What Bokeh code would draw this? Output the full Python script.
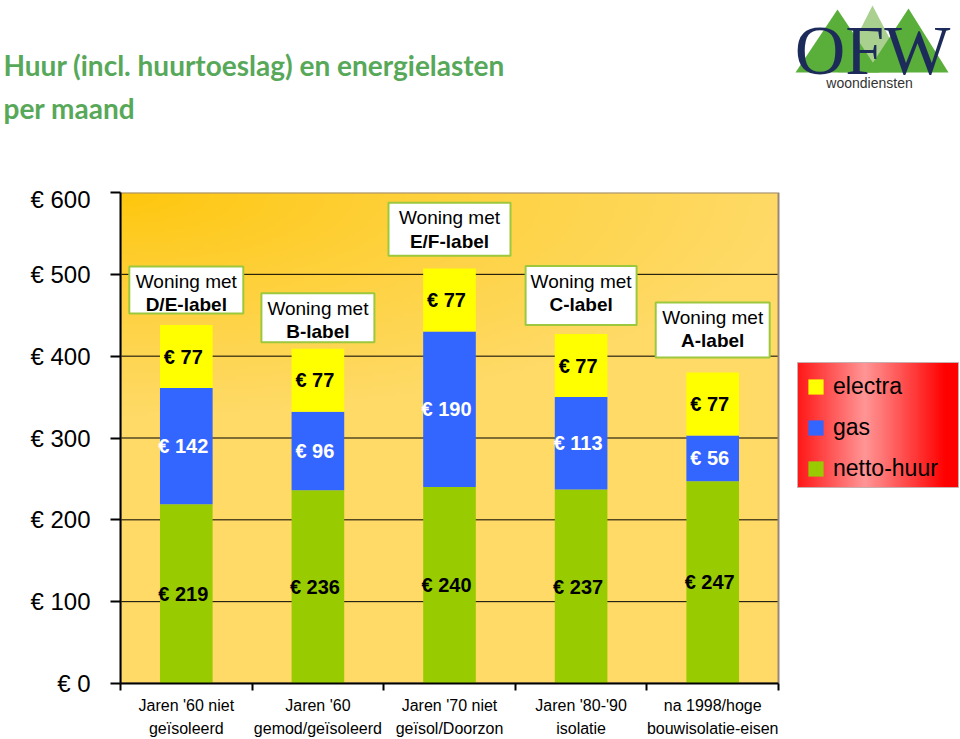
import numpy as np
from bokeh.plotting import figure
from bokeh.models import Range1d, FixedTicker, Legend, LegendItem, ColumnDataSource
from bokeh.layouts import column
from bokeh.core.properties import value
from bokeh.embed import file_html
from bokeh.resources import INLINE

# ---------------- data ----------------
categories = ["Jaren '60 niet\ngeïsoleerd", "Jaren '60\ngemod/geïsoleerd",
              "Jaren '70 niet\ngeïsol/Doorzon", "Jaren '80-'90\nisolatie",
              "na 1998/hoge\nbouwisolatie-eisen"]
energy_labels = ["D/E-label", "B-label", "E/F-label", "C-label", "A-label"]
netto_huur = [219, 236, 240, 237, 247]
gas = [142, 96, 190, 113, 56]
electra = [77, 77, 77, 77, 77]
series_names = ["netto-huur", "gas", "electra"]
y_ticks = [0, 100, 200, 300, 400, 500, 600]
title_lines = ["Huur (incl. huurtoeslag) en energielasten", "per maand"]

# ---------------- style / layout ----------------
GREEN, BLUE, YELLOW = "#99CC00", "#3366FF", "#FFFF00"
BOX_GREEN = "#9BC83C"
TITLE_GREEN = "#58A85A"
FONT_NAME = "Liberation Sans"
FONT = value(FONT_NAME)

n = len(categories)
xc = [i + 0.5 for i in range(n)]
totals = [a + b + c for a, b, c in zip(netto_huur, gas, electra)]

TOP_H = 185
LEFT, BOTTOM = 120, 56
FRAME_W, FRAME_H = 960 - LEFT, 491
TOP_BORDER = 739 - TOP_H - BOTTOM - FRAME_H
PX_X = 131.6                      # pixels per category
PX_Y = FRAME_H / 600.0            # pixels per euro
x_end = FRAME_W / PX_X
ABS_BOTTOM = 739 - BOTTOM         # page y of the zero line


def px2x(px):
    return (px - LEFT) / PX_X


def px2y(py):
    return (ABS_BOTTOM - py) / PX_Y


# ---------------- top figure: title + logo ----------------
top = figure(width=960, height=TOP_H, x_range=Range1d(0, 960), y_range=Range1d(TOP_H, 0),
             min_border=0, x_axis_location=None, y_axis_location=None,
             toolbar_location=None, output_backend="svg", outline_line_color=None)
top.frame_align = False
top.grid.visible = False
top.text(x=[3, 3], y=[64, 107], text=title_lines,
         text_font=value("Lato"), text_font_style="bold", text_font_size="28px",
         text_color=TITLE_GREEN, text_baseline="middle")
tri_px = [[(838, 72), (872, 5), (907, 72)],
          [(795, 72), (837, 9), (879, 72)],
          [(866, 72), (908, 8), (948, 72)]]
top.patches(xs=[[a for a, b in tri] for tri in tri_px],
            ys=[[b for a, b in tri] for tri in tri_px],
            fill_color=["#A9D08E", "#5AAE3A", "#5AAE3A"], line_color=None)
top.text(x=[872], y=[50], text=["OFW"], text_font=value("Liberation Serif"),
         text_font_size="70px", text_color="#1C2B5A", text_align="center",
         text_baseline="middle")
top.text(x=[869], y=[82], text=["woondiensten"], text_font=FONT,
         text_font_size="14px", text_color="#333333", text_align="center",
         text_baseline="middle")

# ---------------- main chart ----------------
p = figure(frame_width=FRAME_W, frame_height=FRAME_H,
           min_border_left=LEFT, min_border_right=0, min_border_top=TOP_BORDER,
           min_border_bottom=BOTTOM,
           x_range=Range1d(0, x_end), y_range=Range1d(0, y_ticks[-1]),
           output_backend="svg", toolbar_location=None,
           background_fill_color="white", border_fill_color="white",
           outline_line_color=None)
p.frame_align = False
p.grid.visible = False

# plot-area gradient background
nx, ny = 240, 150
u = np.linspace(0, 1, nx)[None, :]
v = np.linspace(1, 0, ny)[:, None]
d = np.sqrt((u / 1.0) ** 2 + (v / 0.45) ** 2)
t = np.clip(d, 0, 1) ** 0.8
c0 = np.array([254, 198, 10]); c1 = np.array([255, 218, 102])
img = np.empty((ny, nx), dtype=np.uint32)
view = img.view(np.uint8).reshape(ny, nx, 4)
for k in range(3):
    view[:, :, k] = (c0[k] * (1 - t) + c1[k] * t).astype(np.uint8)
view[:, :, 3] = 255
p.image_rgba(image=[img], x=0, y=0, dw=n, dh=y_ticks[-1], level="image")

# gridlines (only over the plot area)
inner = y_ticks[1:-1]
p.segment(x0=[0] * len(inner), x1=[n] * len(inner), y0=inner, y1=inner,
          line_color="black", line_width=1, level="underlay")
p.quad(left=[0], right=[n], bottom=[0], top=[y_ticks[-1]], fill_color=None,
       line_color="#998877", line_width=2, level="underlay")

# bars
src = ColumnDataSource(dict(x=xc, netto=netto_huur, gas=gas, electra=electra))
stack = p.vbar_stack(["netto", "gas", "electra"], x="x", width=0.4, source=src,
                     fill_color=[GREEN, BLUE, YELLOW], line_color=None)

# value labels
lx, ly, lt, lc = [], [], [], []
for i in range(n):
    base = 0
    for vals, col in ((netto_huur, "black"), (gas, "white"), (electra, "black")):
        lx.append(xc[i]); ly.append(base + vals[i] / 2)
        lt.append(f"€ {vals[i]}"); lc.append(col)
        base += vals[i]
p.text(x=lx, y=ly, text=lt, text_color=lc, text_font=FONT, text_font_style="bold",
       text_font_size="20px", text_align="center", text_baseline="middle", x_offset=-3)

# "Woning met X-label" boxes
box_gap = [43, 38, 48, 47, 52]
box_w = [114, 113, 122, 111, 114]
box_h = [47, 49, 53, 59, 55]
by = [totals[i] + box_gap[i] for i in range(n)]
p.rect(x=xc, y=by, width=box_w, height=box_h, width_units="screen", height_units="screen",
       fill_color="white", line_color=BOX_GREEN, line_width=2)
p.text(x=xc, y=by, text=["Woning met"] * n, y_offset=[15 - h / 2 for h in box_h],
       text_font=FONT, text_font_size="19px", text_color="black",
       text_align="center", text_baseline="middle")
p.text(x=xc, y=by, text=energy_labels, y_offset=[38.5 - h / 2 for h in box_h],
       text_font=FONT, text_font_style="bold", text_font_size="19px", text_color="black",
       text_align="center", text_baseline="middle")

# legend background (red gradient)
lx0, lx1 = px2x(797), px2x(958)
ly0, ly1 = px2y(487), px2y(362)
lnx = 160
uu = np.linspace(0, 1, lnx)[None, :]
f = np.clip(1 - np.abs(uu - 0.42) / 0.5, 0, 1) ** 1.0
limg = np.empty((2, lnx), dtype=np.uint32)
lv = limg.view(np.uint8).reshape(2, lnx, 4)
lv[:, :, 0] = 255
lv[:, :, 1] = (150 * f).astype(np.uint8)
lv[:, :, 2] = (150 * f).astype(np.uint8)
lv[:, :, 3] = 255
p.image_rgba(image=[limg], x=lx0, y=ly0, dw=lx1 - lx0, dh=ly1 - ly0)
p.quad(left=[lx0], right=[lx1], bottom=[ly0], top=[ly1], fill_color=None,
       line_color="#C8B0B0", line_width=1)

legend = Legend(items=[LegendItem(label=series_names[2], renderers=[stack[2]]),
                       LegendItem(label=series_names[1], renderers=[stack[1]]),
                       LegendItem(label=series_names[0], renderers=[stack[0]])],
                location=(686, 201), padding=0, margin=0, spacing=14,
                glyph_width=19, glyph_height=19, label_height=27, label_standoff=8,
                label_text_font=FONT_NAME, label_text_font_size="23px",
                label_text_color="black", background_fill_alpha=0,
                border_line_color=None)
p.add_layout(legend)

# axes
p.yaxis.ticker = FixedTicker(ticks=y_ticks)
p.yaxis.major_label_overrides = {tk: f"€ {tk}" for tk in y_ticks}
p.yaxis.bounds = (y_ticks[0], y_ticks[-1])
p.yaxis.axis_line_color = "black"
p.yaxis.axis_line_width = 2
p.yaxis.major_tick_out = 10
p.yaxis.major_tick_in = 0
p.yaxis.major_tick_line_width = 2
p.yaxis.minor_tick_out = 0
p.yaxis.major_label_standoff = 20
p.yaxis.major_label_text_font = FONT_NAME
p.yaxis.major_label_text_font_size = "24px"
p.yaxis.major_label_text_color = "black"

p.xaxis.ticker = FixedTicker(ticks=xc, minor_ticks=list(range(n + 1)))
p.xaxis.major_label_overrides = {x: lab for x, lab in zip(xc, categories)}
p.xaxis.bounds = (0, n)
p.xaxis.axis_line_color = "black"
p.xaxis.axis_line_width = 2
p.xaxis.major_tick_out = 0
p.xaxis.major_tick_in = 0
p.xaxis.minor_tick_out = 7
p.xaxis.minor_tick_in = 0
p.xaxis.minor_tick_line_width = 2
p.xaxis.minor_tick_line_color = "black"
p.xaxis.major_label_standoff = 6
p.xaxis.major_label_text_font = FONT_NAME
p.xaxis.major_label_text_font_size = "16px"
p.xaxis.major_label_text_line_height = 1.36
p.xaxis.major_label_text_color = "black"

layout = column(top, p, spacing=0)
open("out.html", "w").write(file_html(layout, INLINE))
